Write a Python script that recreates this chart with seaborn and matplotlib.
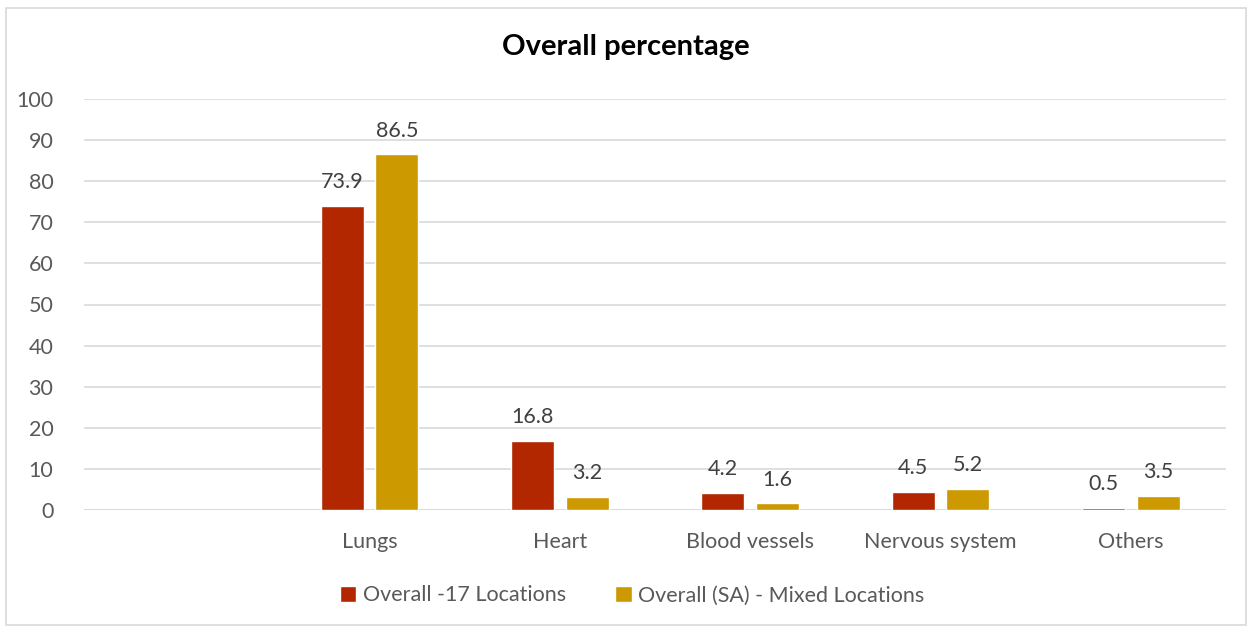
import pandas as pd
import matplotlib.pyplot as plt
import seaborn as sns
from matplotlib.patches import Rectangle

# data
categories = ["Lungs", "Heart", "Blood vessels", "Nervous system", "Others"]
order = [""] + categories
series_a = [73.9, 16.8, 4.2, 4.5, 0.5]
series_b = [86.5, 3.2, 1.6, 5.2, 3.5]
series_names = ["Overall -17 Locations", "Overall (SA) - Mixed Locations"]
colors = ["#B22600", "#CC9900"]

df = pd.DataFrame({
    "Organ": categories * 2,
    "Percent": series_a + series_b,
    "Series": [series_names[0]] * 5 + [series_names[1]] * 5,
})

sns.set_style("white")
plt.rcParams["font.family"] = ["Lato", "DejaVu Sans"]
text_col = "#595959"

fig = plt.figure(figsize=(12.52, 6.28), dpi=100)
ax = fig.add_axes([84 / 1252, 1 - 510 / 628, (1226 - 84) / 1252, (510 - 99) / 628])

sns.barplot(data=df, x="Organ", y="Percent", hue="Series", order=order,
            hue_order=series_names, palette=colors, width=0.573, gap=0.21,
            saturation=1, ax=ax, legend=True)

for cont in ax.containers:
    ax.bar_label(cont, fmt="%.1f", padding=10, fontsize=15.5, color="#404040")

ax.set_ylim(0, 100)
ax.set_yticks(range(0, 101, 10))
ax.set_xlim(-0.5, len(order) - 0.5)
ax.yaxis.grid(True, color="#D9D9D9", linewidth=1.2)
ax.set_axisbelow(True)
for s in ax.spines.values():
    s.set_visible(False)
ax.axhline(0, color="#D9D9D9", linewidth=1.2, zorder=0)
ax.tick_params(axis="both", length=0, labelsize=15.5, labelcolor=text_col)
ax.tick_params(axis="x", pad=16)
ax.tick_params(axis="y", pad=22)
ax.set_xlabel("")
ax.set_ylabel("")

ax.legend(loc="center", bbox_to_anchor=(0.48, -0.208), ncol=2, frameon=False,
          fontsize=15.5, labelcolor=text_col, handlelength=0.75, handleheight=0.75,
          handletextpad=0.3, columnspacing=2.3)

fig.text(0.5, 1 - 47 / 628, "Overall percentage", ha="center", va="center",
         fontsize=21, fontweight="bold", color="black")

fig.patches.append(Rectangle((6 / 1252, 0.005), 1 - 12 / 1252, 1 - 0.005 - 8 / 628,
                             transform=fig.transFigure, fill=False,
                             edgecolor="#D9D9D9", linewidth=1.2))

fig.savefig("out.png", dpi=100)
